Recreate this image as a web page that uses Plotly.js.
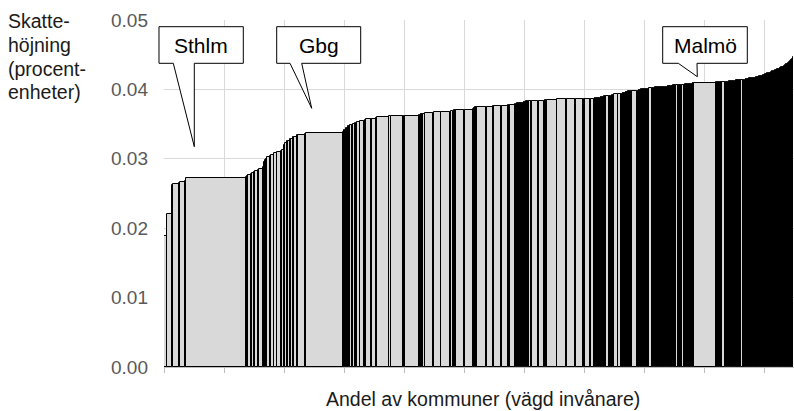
<!DOCTYPE html>
<html>
<head>
<meta charset="utf-8">
<script src="https://cdn.plot.ly/plotly-3.0.1.min.js"></script>
<style>html,body{margin:0;padding:0;background:#fff;}#chart{width:794px;height:411px;}</style>
</head>
<body>
<div id="chart"></div>
<script>
// Municipality population (thousands), sorted by required tax increase
const kommunPop = [
  50, 88, 12, 100, 20, 75, 25,
  1000,
  15, 12, 10, 45, 10, 40, 12, 50, 15, 70,
  10, 15, 12, 12, 20, 45, 12, 55, 10, 45,
  70, 12, 30, 10, 12, 25, 15, 40, 15, 40,
  12, 45, 10, 15, 110, 10, 18,
  610,
  10, 12, 8, 15, 10, 12, 9, 14, 11, 10,
  45, 12, 26, 30, 12, 42, 12, 60, 11, 15, 85, 12, 10, 60, 13,
  10, 195, 12, 33, 200, 10, 12, 12, 230, 14, 12, 10,
  10, 12, 30, 141, 12, 128, 150, 12, 32,
  12, 15, 25, 135, 10, 136, 12, 10, 15, 10, 10,
  10, 155, 12, 99, 15, 120, 12, 105, 15, 12,
  80, 12, 10, 15, 12, 10, 14, 10, 12, 10,
  12, 10, 15, 12, 10, 14, 12, 10, 15,
  12, 10, 40, 12, 110, 15, 75, 12, 20,
  12, 170, 12, 150, 12, 130, 12, 129, 12,
  12, 10, 80, 12, 50, 10, 9, 12,
  22, 12, 10, 14, 11, 13, 9, 15, 12, 10, 14, 11, 12, 55, 10, 12, 9, 14, 11, 15, 12,
  60, 50, 12, 10, 14, 9, 13, 11, 15, 10, 12, 14, 9, 11, 13, 10, 12, 15, 7,
  80, 12, 10, 14, 11, 9, 13, 15, 10, 12, 14, 11, 9, 13, 10, 12, 13, 10,
  50, 12, 10, 14, 9, 13, 11, 15, 10, 12, 14, 9, 11, 13, 10, 12, 15, 9, 11, 14, 25, 10, 12, 9, 13, 11, 15, 8, 11,
  12, 10, 14, 9, 13, 35, 11, 15, 10, 12, 14, 40, 9, 11, 13, 10, 12, 9, 10, 10,
  12, 10, 14, 9, 13, 11, 14,
  360,
  12, 10, 14, 9, 13, 11, 15, 10, 12, 55, 14, 9, 11, 13, 10, 12, 15, 9, 11, 14, 10, 12, 9, 13, 11, 15, 10, 12, 8, 11,
  14, 9, 11, 30, 13, 10, 12, 15, 9, 11, 14, 10, 12, 9, 13, 11, 15, 10, 12, 14, 9, 11, 13, 10, 12, 9, 15,
  11, 13, 10, 12, 9, 14, 11, 15, 10, 12, 9, 13, 11, 17,
  10, 12, 9, 14, 11, 13, 10, 15, 12, 9, 11, 14, 10, 17,
  12, 9, 13, 11, 10, 14, 12, 9, 15, 11, 10, 13, 12, 16,
  10, 9, 12, 8, 11, 9, 8
];

// Tax increase (percentage points as fraction), same order
const skatteHojning = [
  0.0189, 0.0220, 0.0262, 0.0264, 0.0265, 0.0266, 0.0268,
  0.0273,
  0.0274, 0.0275, 0.0276, 0.0277, 0.0278, 0.0279, 0.0281, 0.0283, 0.0284, 0.0285,
  0.0288, 0.0292, 0.0296, 0.0298, 0.0299, 0.0302, 0.0304, 0.0305, 0.0307, 0.0309,
  0.0310, 0.0311, 0.0312, 0.0316, 0.0320, 0.0323, 0.0325, 0.0326, 0.0328, 0.0329,
  0.0331, 0.0332, 0.0333, 0.0334, 0.0334, 0.0335, 0.0336,
  0.0337,
  0.0339, 0.0340, 0.0341, 0.0342, 0.0343, 0.0344, 0.0345, 0.0346, 0.0347, 0.0347,
  0.0348, 0.0349, 0.0350, 0.0351, 0.0352, 0.0353, 0.0353, 0.0354, 0.0355, 0.0356, 0.0357, 0.0357, 0.0358, 0.0358, 0.0359,
  0.0359, 0.0360, 0.0360, 0.0361, 0.0361, 0.0362, 0.0362, 0.0362, 0.0362, 0.0363, 0.0363, 0.0364,
  0.0364, 0.0364, 0.0365, 0.0366, 0.0366, 0.0367, 0.0368, 0.0368, 0.0369,
  0.0369, 0.0370, 0.0370, 0.0371, 0.0371, 0.0371, 0.0372, 0.0373, 0.0373, 0.0374, 0.0374,
  0.0374, 0.0375, 0.0375, 0.0375, 0.0376, 0.0376, 0.0376, 0.0376, 0.0377, 0.0377,
  0.0378, 0.0378, 0.0379, 0.0379, 0.0379, 0.0380, 0.0380, 0.0380, 0.0380, 0.0380,
  0.0380, 0.0381, 0.0381, 0.0381, 0.0382, 0.0382, 0.0382, 0.0383, 0.0383,
  0.0383, 0.0383, 0.0384, 0.0384, 0.0384, 0.0384, 0.0384, 0.0384, 0.0385,
  0.0385, 0.0385, 0.0385, 0.0386, 0.0386, 0.0386, 0.0386, 0.0386, 0.0386,
  0.0386, 0.0386, 0.0386, 0.0386, 0.0386, 0.0386, 0.0387, 0.0387,
  0.0387, 0.0387, 0.0388, 0.0388, 0.0388, 0.0388, 0.0389, 0.0389, 0.0389, 0.0389, 0.0389, 0.0390, 0.0390, 0.0390, 0.0390, 0.0390, 0.0391, 0.0391, 0.0391, 0.0392, 0.0392,
  0.0393, 0.0394, 0.0394, 0.0394, 0.0394, 0.0395, 0.0395, 0.0395, 0.0395, 0.0396, 0.0396, 0.0396, 0.0396, 0.0397, 0.0397, 0.0397, 0.0397, 0.0397, 0.0397,
  0.0398, 0.0398, 0.0398, 0.0399, 0.0399, 0.0399, 0.0399, 0.0400, 0.0400, 0.0400, 0.0400, 0.0400, 0.0401, 0.0401, 0.0401, 0.0401, 0.0401, 0.0401,
  0.0402, 0.0402, 0.0402, 0.0402, 0.0402, 0.0403, 0.0403, 0.0403, 0.0403, 0.0403, 0.0403, 0.0403, 0.0403, 0.0403, 0.0404, 0.0404, 0.0404, 0.0404, 0.0404, 0.0404, 0.0404, 0.0404, 0.0405, 0.0405, 0.0405, 0.0405, 0.0405, 0.0405, 0.0405,
  0.0405, 0.0406, 0.0406, 0.0406, 0.0406, 0.0406, 0.0407, 0.0407, 0.0407, 0.0407, 0.0407, 0.0407, 0.0407, 0.0407, 0.0408, 0.0408, 0.0408, 0.0408, 0.0408, 0.0408,
  0.0408, 0.0408, 0.0408, 0.0408, 0.0408, 0.0409, 0.0409,
  0.0409,
  0.0409, 0.0410, 0.0410, 0.0410, 0.0410, 0.0410, 0.0410, 0.0411, 0.0411, 0.0411, 0.0411, 0.0411, 0.0411, 0.0411, 0.0411, 0.0412, 0.0412, 0.0412, 0.0412, 0.0412, 0.0412, 0.0412, 0.0412, 0.0412, 0.0412, 0.0413, 0.0413, 0.0413, 0.0413, 0.0413,
  0.0413, 0.0413, 0.0413, 0.0414, 0.0414, 0.0414, 0.0414, 0.0414, 0.0415, 0.0415, 0.0415, 0.0415, 0.0415, 0.0416, 0.0416, 0.0416, 0.0416, 0.0416, 0.0417, 0.0417, 0.0417, 0.0417, 0.0417, 0.0418, 0.0418, 0.0418, 0.0418,
  0.0419, 0.0419, 0.0419, 0.0420, 0.0420, 0.0420, 0.0421, 0.0421, 0.0421, 0.0422, 0.0422, 0.0422, 0.0423, 0.0423,
  0.0423, 0.0424, 0.0424, 0.0425, 0.0425, 0.0426, 0.0426, 0.0427, 0.0427, 0.0428, 0.0428, 0.0429, 0.0429, 0.0430,
  0.0430, 0.0431, 0.0431, 0.0432, 0.0432, 0.0433, 0.0433, 0.0434, 0.0434, 0.0435, 0.0436, 0.0436, 0.0437, 0.0438,
  0.0439, 0.0440, 0.0441, 0.0442, 0.0443, 0.0444, 0.0446
];

const calloutLabels = ['Sthlm', 'Gbg', 'Malmö'];
const yTitleLines = ['Skatte-', 'höjning', '(procent-', 'enheter)'];
const xTitle = 'Andel av kommuner (vägd invånare)';
const yTickVals = [0, 0.01, 0.02, 0.03, 0.04, 0.05];

// Build variable-width bar positions (millions of inhabitants)
const xs = [], ws = [];
let cum = 0;
const n = Math.min(kommunPop.length, skatteHojning.length);
for (let i = 0; i < n; i++) {
  const w = kommunPop[i] / 1000;
  xs.push(cum + w / 2);
  ws.push(w);
  cum += w;
}

// layout geometry helpers (pixel -> paper)
const W = 794, H = 411, ML = 164, MR = 0, MT = 20, MB = 44;
const PW = W - ML - MR, PH = H - MT - MB;
const px = X => (X - ML) / PW;
const py = Y => (H - MB - Y) / PH;
function poly(pts) {
  return 'M ' + pts.map(p => px(p[0]).toFixed(5) + ',' + py(p[1]).toFixed(5)).join(' L ') + ' Z';
}

const calloutGeom = [
  {box: [159, 26.7, 243.3, 63.3], tail: [[194.3, 63.3], [194.3, 146.7], [173.3, 63.3]], tx: 201},
  {box: [276.7, 26.7, 360.7, 63.3], tail: [[301.7, 63.3], [311.7, 108.3], [290, 63.3]], tx: 318.7},
  {box: [662.7, 26.7, 747.3, 63.3], tail: [[697, 63.3], [697.3, 76.7], [678.3, 63.3]], tx: 705}
];

const shapes = calloutGeom.map(c => {
  const [x0, y0, x1, y1] = c.box;
  const pts = [[x0, y0], [x1, y0], [x1, y1]].concat(c.tail).concat([[x0, y1]]);
  return {type: 'path', xref: 'paper', yref: 'paper', path: poly(pts),
          fillcolor: '#ffffff', line: {color: '#000000', width: 1}, layer: 'above'};
});

const FONT = 'Liberation Sans, Arial, Helvetica, sans-serif';
const annotations = [];
calloutGeom.forEach((c, i) => {
  annotations.push({xref: 'paper', yref: 'paper', x: px(c.tx), y: py(45), xanchor: 'center', yanchor: 'middle',
    text: calloutLabels[i], showarrow: false, font: {family: FONT, size: 21, color: '#000000'}});
});
const yLineY = [21, 45, 68.5, 92];
yTitleLines.forEach((t, i) => {
  annotations.push({xref: 'paper', yref: 'paper', x: px(6), y: py(yLineY[i]), xanchor: 'left', yanchor: 'middle',
    text: t, showarrow: false, font: {family: FONT, size: 19.5, color: '#1a1a1a'}});
});
annotations.push({xref: 'paper', yref: 'paper', x: px(483), y: py(399), xanchor: 'center', yanchor: 'middle',
  text: xTitle, showarrow: false, font: {family: FONT, size: 19.5, color: '#1a1a1a'}});

const trace = {
  type: 'bar',
  x: xs,
  y: skatteHojning.slice(0, n),
  width: ws,
  marker: {color: '#d9d9d9', line: {color: '#000000', width: 1}},
  hoverinfo: 'skip',
  cliponaxis: false
};

const layout = {
  width: W, height: H,
  margin: {l: ML, r: MR, t: MT, b: MB, pad: 0},
  paper_bgcolor: '#ffffff', plot_bgcolor: '#ffffff',
  showlegend: false,
  bargap: 0,
  font: {family: FONT},
  xaxis: {
    range: [0, 10.5], tick0: 0, dtick: 1, showticklabels: false,
    ticks: 'outside', ticklen: 5, tickcolor: '#bfbfbf', tickwidth: 1,
    showline: true, linecolor: '#bfbfbf', linewidth: 1,
    showgrid: true, gridcolor: '#d9d9d9', gridwidth: 1, zeroline: false, fixedrange: true
  },
  yaxis: {
    range: [0, 0.05], tickvals: yTickVals, tickformat: '.2f',
    ticks: '', showline: false, showgrid: true, gridcolor: '#d9d9d9', gridwidth: 1,
    zeroline: false, fixedrange: true, ticklabelstandoff: 15,
    tickfont: {family: FONT, size: 19, color: '#595959'}
  },
  shapes: shapes,
  annotations: annotations
};

Plotly.newPlot('chart', [trace], layout, {displayModeBar: false, staticPlot: false});
</script>
</body>
</html>
